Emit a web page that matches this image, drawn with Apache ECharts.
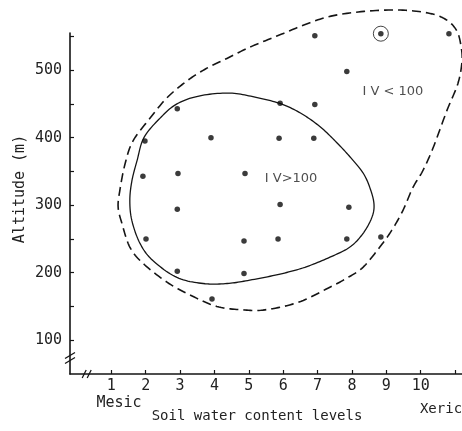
<!DOCTYPE html>
<html><head><meta charset="utf-8">
<script src="https://cdn.jsdelivr.net/npm/echarts@6/dist/echarts.min.js"></script>
<style>html,body{margin:0;padding:0;background:#fff}#c{width:462px;height:431px}</style>
</head><body><div id="c"></div>
<script>
// Sample plots: soil water content level (x) and altitude in m (y)
const soilLevel = [1.98, 1.92, 2.01, 2.92, 2.94, 2.92, 2.92, 3.9, 3.93, 4.89, 4.86, 4.86, 5.91, 5.88, 5.91, 5.85, 6.92, 6.92, 6.89, 7.85, 7.91, 7.85, 8.84, 10.82];
const altitude  = [395, 343, 250, 443, 347, 294, 202, 400, 161, 347, 247, 199, 451, 399, 301, 250, 551, 449, 399, 498, 297, 250, 253, 554];
// circled plot
const circledLevel = [8.84];
const circledAltitude = [554];
// IV>100 boundary (solid), closed loop
const innerX = [6.63, 5.91, 5.03, 4.37, 3.67, 2.91, 2.21, 1.84, 1.60, 1.54, 1.60, 1.75, 1.95, 2.42, 2.91, 3.58, 4.45, 5.18, 5.94, 6.55, 7.10, 7.59, 7.97, 8.32, 8.52, 8.64, 8.58, 8.32, 7.94, 7.36];
const innerY = [208, 198, 189, 184, 184, 193, 218, 243, 277, 307, 336, 366, 400, 429, 450, 462, 466, 460, 450, 435, 415, 391, 370, 348, 326, 302, 282, 258, 238, 223];
// IV<100 boundary (dashed), closed loop
const outerX = [4.31, 5.03, 5.94, 6.66, 7.39, 8.35, 9.40, 10.27, 10.76, 11.05, 11.17, 11.20, 11.08, 10.76, 10.36, 10.06, 9.77, 9.48, 9.16, 8.81, 8.32, 7.85, 7.30, 6.43, 5.47, 4.83, 4.07, 3.29, 2.62, 1.92, 1.54, 1.31, 1.20, 1.25, 1.40, 1.63, 2.13, 2.62, 3.20, 3.75];
const outerY = [516, 534, 553, 568, 580, 587, 589, 584, 574, 558, 536, 513, 480, 440, 385, 351, 326, 292, 263, 238, 208, 192, 177, 156, 145, 145, 150, 167, 186, 214, 238, 273, 297, 322, 361, 395, 429, 459, 484, 502];
// axis ticks and labels
const xTicks = [1, 2, 3, 4, 5, 6, 7, 8, 9, 10, 11];
const xLabels = [1, 2, 3, 4, 5, 6, 7, 8, 9, 10];
const yTicks = [100, 150, 200, 250, 300, 350, 400, 450, 500, 550];
const yLabels = [100, 200, 300, 400, 500];
const regionLabels = ['I V>100', 'I V < 100'];
const regionLabelX = [6.23, 9.19];
const regionLabelY = [339, 468];

const zip = (a, b) => a.map((v, i) => [v, b[i]]);
const mono = '"DejaVu Sans Mono", monospace';
const ink = '#151515';

// closed Catmull-Rom spline through pixel points
function closedSpline(pts, steps) {
  const n = pts.length, out = [];
  for (let i = 0; i < n; i++) {
    const p0 = pts[(i - 1 + n) % n], p1 = pts[i], p2 = pts[(i + 1) % n], p3 = pts[(i + 2) % n];
    for (let s = 0; s < steps; s++) {
      const t = s / steps, t2 = t * t, t3 = t2 * t;
      out.push([0, 1].map(k => 0.5 * ((2 * p1[k]) + (-p0[k] + p2[k]) * t +
        (2 * p0[k] - 5 * p1[k] + 4 * p2[k] - p3[k]) * t2 +
        (-p0[k] + 3 * p1[k] - 3 * p2[k] + p3[k]) * t3)));
    }
  }
  out.push(out[0].slice());
  return out;
}
function loopSeries(xs, ys, style) {
  return {
    type: 'custom', clip: false, silent: true, data: [0],
    renderItem: (params, api) => {
      const pts = xs.map((x, i) => api.coord([x, ys[i]]));
      return {type: 'polyline', shape: {points: closedSpline(pts, 12)},
        style: Object.assign({fill: null, stroke: ink}, style)};
    }
  };
}

const chart = echarts.init(document.getElementById('c'), null, {renderer: 'canvas'});
chart.setOption({
  animation: false,
  backgroundColor: '#fff',
  grid: {left: 70, right: 0, top: 33, bottom: 57},
  xAxis: {
    type: 'value', min: -0.2, max: 11.2,
    axisLine: {show: true, onZero: false, lineStyle: {color: ink, width: 1.6}},
    axisTick: {show: true, inside: true, length: 4, customValues: xTicks, lineStyle: {color: ink, width: 1.2}},
    axisLabel: {customValues: xLabels, margin: 5, fontFamily: mono, fontSize: 15, color: '#222'},
    splitLine: {show: false}
  },
  yAxis: {
    type: 'value', min: 50, max: 555,
    axisLine: {show: true, onZero: false, lineStyle: {color: ink, width: 1.6}},
    axisTick: {show: true, inside: true, length: 4, customValues: yTicks, lineStyle: {color: ink, width: 1.2}},
    axisLabel: {customValues: yLabels, margin: 8, fontFamily: mono, fontSize: 15, color: '#222'},
    splitLine: {show: false}
  },
  series: [
    loopSeries(innerX, innerY, {lineWidth: 1.3}),
    loopSeries(outerX, outerY, {lineWidth: 1.6, lineDash: [9, 5]}),
    {type: 'scatter', data: zip(soilLevel, altitude), symbol: 'circle', symbolSize: 5.5,
     itemStyle: {color: '#0a0a0a'}},
    {type: 'scatter', data: zip(circledLevel, circledAltitude), symbol: 'circle', symbolSize: 5.5,
     itemStyle: {color: '#0a0a0a'}},
    {type: 'scatter', data: zip(circledLevel, circledAltitude), symbol: 'circle', symbolSize: 15,
     itemStyle: {color: 'rgba(0,0,0,0)', borderColor: ink, borderWidth: 1}},
    {type: 'scatter', data: regionLabels.map((t, i) => ({value: [regionLabelX[i], regionLabelY[i]], name: t})),
     symbolSize: 0, silent: true,
     label: {show: true, position: 'inside', formatter: p => p.name, fontFamily: '"DejaVu Sans", sans-serif', fontSize: 13, color: '#222'}}
  ]
});

// decorations: axis titles, end labels, axis break marks
const xb = chart.convertToPixel({gridIndex: 0}, [0.3, 50]);
const yb = chart.convertToPixel({gridIndex: 0}, [-0.2, 76]);
const seg = (x1, y1, x2, y2) => ({type: 'line', shape: {x1, y1, x2, y2}, style: {stroke: ink, lineWidth: 1.3}, z: 10});
chart.setOption({
  graphic: [
    {type: 'text', x: 20, y: 189, rotation: Math.PI / 2, style: {text: 'Altitude (m)', font: '15px ' + mono, fill: '#222', align: 'center', verticalAlign: 'middle'}},
    {type: 'text', x: 257, y: 416, style: {text: 'Soil water content levels', font: '14px ' + mono, fill: '#222', align: 'center', verticalAlign: 'middle'}},
    {type: 'text', x: 119, y: 403, style: {text: 'Mesic', font: '15px ' + mono, fill: '#222', align: 'center', verticalAlign: 'middle'}},
    {type: 'text', x: 441, y: 409, style: {text: 'Xeric', font: '14px ' + mono, fill: '#222', align: 'center', verticalAlign: 'middle'}},
    seg(xb[0] - 5, xb[1] + 4, xb[0] - 1, xb[1] - 4),
    seg(xb[0], xb[1] + 4, xb[0] + 4, xb[1] - 4),
    seg(yb[0] - 5, yb[1] + 2, yb[0] + 5, yb[1] - 4),
    seg(yb[0] - 5, yb[1] + 7, yb[0] + 5, yb[1] + 1)
  ]
});
</script>
</body></html>
